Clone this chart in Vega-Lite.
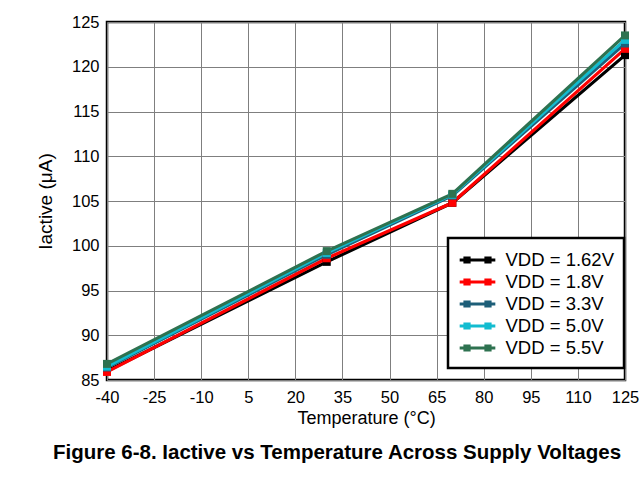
{
  "$schema": "https://vega.github.io/schema/vega-lite/v6.json",
  "width": 518,
  "height": 358,
  "autosize": {"type": "none"},
  "padding": {"left": 107, "top": 22, "right": 17, "bottom": 99},
  "background": "white",
  "title": {
    "text": "Figure 6-8. Iactive vs Temperature Across Supply Voltages",
    "orient": "bottom",
    "anchor": "middle",
    "font": "Liberation Sans",
    "fontSize": 20.5,
    "fontWeight": "bold",
    "color": "black",
    "offset": 15,
    "dx": -29
  },
  "config": {
    "view": {"stroke": "black", "strokeWidth": 2.5},
    "font": "Liberation Sans"
  },
  "data": {
    "values": [
      {"T": -40, "VDD": "VDD = 1.62V", "I": 86.0},
      {"T": 30, "VDD": "VDD = 1.62V", "I": 98.2},
      {"T": 70, "VDD": "VDD = 1.62V", "I": 104.8},
      {"T": 125, "VDD": "VDD = 1.62V", "I": 121.3},
      {"T": -40, "VDD": "VDD = 1.8V", "I": 85.9},
      {"T": 30, "VDD": "VDD = 1.8V", "I": 98.6},
      {"T": 70, "VDD": "VDD = 1.8V", "I": 104.8},
      {"T": 125, "VDD": "VDD = 1.8V", "I": 122.0},
      {"T": -40, "VDD": "VDD = 3.3V", "I": 86.4},
      {"T": 30, "VDD": "VDD = 3.3V", "I": 99.0},
      {"T": 70, "VDD": "VDD = 3.3V", "I": 105.6},
      {"T": 125, "VDD": "VDD = 3.3V", "I": 122.6},
      {"T": -40, "VDD": "VDD = 5.0V", "I": 86.5},
      {"T": 30, "VDD": "VDD = 5.0V", "I": 99.2},
      {"T": 70, "VDD": "VDD = 5.0V", "I": 105.7},
      {"T": 125, "VDD": "VDD = 5.0V", "I": 123.0},
      {"T": -40, "VDD": "VDD = 5.5V", "I": 86.8},
      {"T": 30, "VDD": "VDD = 5.5V", "I": 99.4},
      {"T": 70, "VDD": "VDD = 5.5V", "I": 105.8},
      {"T": 125, "VDD": "VDD = 5.5V", "I": 123.5}
    ]
  },
  "mark": {
    "type": "line",
    "strokeWidth": 3.2,
    "clip": false,
    "point": {"shape": "square", "filled": true, "size": 64, "opacity": 1}
  },
  "encoding": {
    "x": {
      "field": "T",
      "type": "quantitative",
      "scale": {"domain": [-40, 125], "nice": false, "zero": false},
      "axis": {
        "values": [-40, -25, -10, 5, 20, 35, 50, 65, 80, 95, 110, 125],
        "labelExpr": "'' + datum.value",
        "title": "Temperature (°C)",
        "titleFont": "Liberation Sans",
        "titleFontSize": 18,
        "titleFontWeight": "normal",
        "titleColor": "black",
        "titlePadding": 4,
        "labelFont": "Liberation Sans",
        "labelFontSize": 16.5,
        "labelColor": "black",
        "labelPadding": 9,
        "ticks": false,
        "domain": false,
        "grid": true,
        "gridColor": "#7f7f7f",
        "gridWidth": 1,
        "gridOpacity": 1,
        "labelFlush": false,
        "labelOverlap": false
      }
    },
    "y": {
      "field": "I",
      "type": "quantitative",
      "scale": {"domain": [85, 125], "nice": false, "zero": false},
      "axis": {
        "values": [85, 90, 95, 100, 105, 110, 115, 120, 125],
        "title": "Iactive (μA)",
        "titleFont": "Liberation Sans",
        "titleFontSize": 19,
        "titleFontWeight": "normal",
        "titleColor": "black",
        "titlePadding": 16,
        "labelFont": "Liberation Sans",
        "labelFontSize": 16.5,
        "labelColor": "black",
        "labelPadding": 8,
        "ticks": false,
        "domain": false,
        "grid": true,
        "gridColor": "#7f7f7f",
        "gridWidth": 1,
        "gridOpacity": 1,
        "labelFlush": false,
        "labelOverlap": false
      }
    },
    "color": {
      "field": "VDD",
      "type": "nominal",
      "sort": ["VDD = 1.62V", "VDD = 1.8V", "VDD = 3.3V", "VDD = 5.0V", "VDD = 5.5V"],
      "scale": {
        "domain": ["VDD = 1.62V", "VDD = 1.8V", "VDD = 3.3V", "VDD = 5.0V", "VDD = 5.5V"],
        "range": ["#000000", "#ff0000", "#1d5e78", "#12bcd0", "#2e7250"]
      },
      "legend": {
        "title": null,
        "orient": "none",
        "legendX": 341,
        "legendY": 216,
        "direction": "vertical",
        "fillColor": "white",
        "strokeColor": "black",
        "padding": 10,
        "rowPadding": 0,
        "labelFont": "Liberation Sans",
        "labelFontSize": 18.5,
        "labelColor": "black",
        "labelOffset": 16,
        "symbolOffset": 7.5,
        "symbolType": "M-1.7,0L1.7,0M-1.2,-0.2h0.4v0.4h-0.4zM0.8,-0.2h0.4v0.4h-0.4z",
        "symbolSize": 440,
        "symbolStrokeWidth": 3,
        "symbolOpacity": 1,
        "encode": {
          "legend": {"update": {"strokeWidth": {"value": 2.5}}}
        }
      }
    }
  }
}
